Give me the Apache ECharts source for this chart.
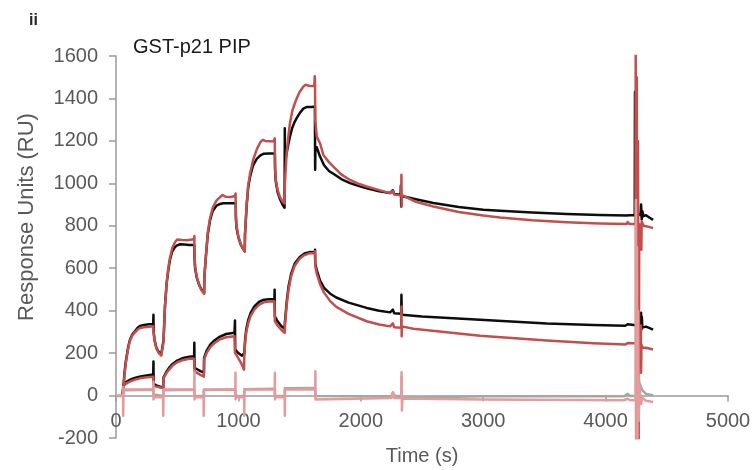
<!DOCTYPE html>
<html>
<head>
<meta charset="utf-8">
<script src="https://cdn.jsdelivr.net/npm/echarts@6/dist/echarts.min.js"></script>
<style>
html,body{margin:0;padding:0;background:#fff;}
#chart{width:756px;height:470px;}
</style>
</head>
<body>
<div id="chart"></div>
<script>
// Tick values
const xTicks = [0, 1000, 2000, 3000, 4000, 5000];
const yTicks = [-200, 0, 200, 400, 600, 800, 1000, 1200, 1400, 1600];

// Series: [time (s), response (RU)]
const blackHigh = [[55,0],[60,37],[70,110],[80,160],[87,185],[100,230],[114,263],[135,290],[155,303],[175,318],[196,328],[230,333],[270,336],[304,337],[306,381],[308,300],[315,262],[330,225],[350,205],[370,195],[386,190],
[388,260],[400,420],[414,530],[427,590],[441,640],[460,680],[482,700],[500,708],[523,713],[560,712],[600,709],[639,710],
[641,660],[646,600],[660,555],[680,520],[700,498],[720,483],
[722,560],[735,660],[750,760],[768,825],[790,870],[822,895],[850,903],[876,906],[920,906],[978,906],
[980,830],[985,790],[1000,745],[1020,710],[1040,690],[1052,679],
[1054,760],[1068,900],[1080,980],[1095,1030],[1120,1085],[1150,1115],[1180,1132],[1204,1139],[1250,1140],[1298,1140],
[1300,1060],[1305,1010],[1320,960],[1340,925],[1360,900],[1377,885],
[1378,1049],[1379,1259],[1381,1100],[1394,1142],[1410,1190],[1421,1220],[1440,1262],[1460,1290],[1476,1307],[1500,1330],[1530,1352],[1560,1360],[1600,1360],[1625,1362],
[1627,1064],[1629,1150],[1640,1170],[1667,1126],[1700,1085],[1740,1058],[1776,1045],[1840,1020],[1912,1001],[1980,988],[2048,977],[2150,963],[2239,954],[2255,952],[2262,968],[2272,950],[2325,946],[2327,990],[2330,891],[2335,940],[2347,941],[2450,925],[2593,907],[2800,888],[3000,876],[3137,871],[3400,862],[3682,855],[3950,851],[4172,849],[4180,858],[4195,850],[4238,850],[4240,1432],[4242,860],[4285,850],[4290,900],[4295,830],[4300,870],[4310,845],[4330,850],[4360,838],[4388,828]];

const redHigh = [[55,0],[60,30],[70,100],[80,150],[87,180],[100,225],[114,258],[135,285],[155,298],[175,310],[196,318],[230,322],[270,324],[304,326],[306,335],[308,290],[315,258],[330,222],[350,200],[370,188],[386,183],
[388,250],[400,420],[414,530],[427,600],[441,650],[460,695],[482,722],[500,735],[515,740],[540,733],[580,732],[620,735],[638,738],[640,752],[641,680],[646,610],[660,560],[680,520],[700,495],[720,480],
[722,560],[735,660],[750,770],[768,835],[790,885],[822,920],[850,935],[870,945],[895,937],[940,936],[970,940],[977,952],[979,850],[985,800],[1000,750],[1020,712],[1040,690],[1052,680],
[1054,760],[1068,905],[1080,990],[1095,1045],[1120,1110],[1150,1160],[1180,1195],[1200,1205],[1220,1200],[1260,1198],[1290,1200],[1297,1212],[1299,1080],[1305,1020],[1320,970],[1340,935],[1360,915],[1378,905],
[1380,1000],[1394,1142],[1410,1230],[1421,1283],[1440,1340],[1460,1375],[1476,1400],[1500,1430],[1530,1455],[1550,1465],[1575,1460],[1600,1458],[1620,1460],[1624,1505],[1626,1470],[1628,1300],[1640,1220],[1667,1189],[1694,1134],[1740,1100],[1776,1079],[1840,1042],[1912,1016],[1980,998],[2048,985],[2150,968],[2239,954],[2255,950],[2262,965],[2272,948],[2330,942],[2332,1040],[2334,891],[2336,945],[2347,941],[2450,913],[2593,891],[2800,865],[3000,848],[3137,839],[3400,826],[3682,817],[3950,811],[4172,808],[4180,818],[4195,808],[4244,808],[4246,1605],[4250,-250],[4255,1500],[4260,-250],[4265,1200],[4270,-250],[4275,808],[4290,814],[4292,687],[4295,820],[4310,800],[4340,797],[4388,789]];

const blackLow = [[55,0],[60,52],[80,62],[100,70],[130,78],[160,84],[200,90],[250,95],[304,99],[306,161],[308,55],[330,48],[360,42],[386,37],
[388,85],[410,110],[430,128],[460,148],[500,165],[550,177],[600,183],[638,185],[640,249],[642,131],[660,125],[690,115],[718,108],
[720,178],[740,210],[770,240],[800,258],[850,278],[900,290],[968,296],[972,354],[974,216],[1000,200],[1030,188],[1046,180],
[1048,200],[1055,265],[1065,315],[1080,355],[1100,390],[1130,420],[1170,442],[1210,452],[1250,454],[1294,455],[1296,499],[1298,373],[1320,350],[1350,328],[1378,315],
[1380,345],[1395,445],[1410,515],[1430,572],[1460,622],[1500,652],[1540,670],[1580,676],[1624,675],[1626,687],[1628,620],[1640,592],[1667,542],[1700,507],[1750,480],[1800,462],[1900,438],[2048,413],[2150,400],[2239,392],[2255,390],[2262,405],[2272,388],[2330,386],[2332,475],[2334,414],[2336,381],[2500,372],[2974,357],[3519,339],[3900,333],[4160,329],[4180,336],[4195,329],[4285,329],[4290,390],[4293,311],[4296,370],[4300,320],[4330,325],[4360,318],[4388,311]];

const redLow = [[55,0],[60,45],[80,55],[100,62],[130,70],[160,76],[200,82],[250,86],[304,89],[306,95],[308,45],[330,42],[360,38],[386,34],
[388,80],[410,104],[430,120],[460,140],[500,157],[550,168],[600,173],[638,174],[640,180],[642,114],[660,108],[690,97],[718,89],
[720,170],[740,200],[770,228],[800,245],[850,265],[900,275],[968,279],[970,285],[972,202],[1000,175],[1025,150],[1046,122],
[1048,180],[1055,250],[1065,300],[1080,340],[1100,375],[1130,405],[1170,428],[1210,440],[1250,443],[1294,444],[1296,450],[1298,350],[1320,330],[1350,310],[1378,295],
[1380,330],[1395,430],[1410,500],[1430,560],[1460,612],[1500,645],[1540,662],[1580,670],[1624,670],[1626,680],[1628,610],[1640,575],[1667,525],[1700,485],[1750,445],[1800,418],[1900,385],[2048,350],[2150,335],[2239,326],[2255,324],[2262,340],[2272,322],[2330,320],[2332,420],[2334,279],[2336,326],[2429,315],[2974,282],[3519,259],[3900,247],[4160,240],[4180,248],[4195,240],[4285,245],[4288,330],[4290,108],[4293,240],[4300,225],[4330,225],[4388,217]];

const greyCtrl = [[0,-2],[58,-2],[59,40],[61,25],[305,27],[306,5],[310,-2],[385,-2],[386,25],[640,27],[641,-2],[716,-2],[717,26],[975,28],[976,-2],[1047,-2],[1048,30],[1297,32],[1298,-2],[1378,-2],[1379,34],[1628,36],[1629,-2],[2250,-3],[2262,15],[2275,-2],[2332,-2],[2333,90],[2336,-10],[2340,-2],[3000,-3],[4150,-3],[4180,8],[4200,-2],[4250,-2],[4255,160],[4260,-50],[4268,100],[4275,60],[4300,25],[4330,8],[4388,2]];

const pinkCtrl = [[0,0],[58,0],[59,-95],[61,28],[305,28],[306,65],[307,-18],[310,-8],[385,-8],[386,-95],[388,28],[640,28],[641,112],[642,-18],[645,-8],[716,-8],[717,-95],[719,28],[975,28],[976,108],[977,-18],[980,-8],[1047,-8],[1048,-95],[1050,28],[1297,28],[1298,108],[1299,-18],[1302,-8],[1378,-8],[1379,-95],[1381,28],[1628,28],[1629,114],[1630,-18],[1640,-10],[2250,-12],[2262,15],[2275,-12],[2332,-12],[2333,110],[2336,-70],[2340,-14],[3000,-18],[4150,-22],[4180,-15],[4200,-22],[4245,-22],[4248,922],[4252,-260],[4256,700],[4260,-260],[4265,400],[4270,-120],[4278,40],[4290,-40],[4300,-10],[4330,-25],[4388,-30]];

const chart = echarts.init(document.getElementById('chart'), null, {renderer: 'canvas'});
const FONT = '"Liberation Sans", Arial, sans-serif';
function mk(name, data, color, z) {
  return {
    name: name, type: 'line', data: data, symbol: 'none', showSymbol: false,
    lineStyle: {color: color, width: 2.5, join: 'round'}, z: z, clip: true, silent: true
  };
}
const plain = v => String(v);
chart.setOption({
  animation: false,
  backgroundColor: '#fff',
  title: [
    {text: 'ii', left: 29, top: 13, padding: 0, textStyle: {fontFamily: FONT, fontSize: 16, fontWeight: 'bold', color: '#262626'}},
    {text: 'GST-p21 PIP', left: 133, top: 37, padding: 0, textStyle: {fontFamily: FONT, fontSize: 20, fontWeight: 'normal', color: '#1a1a1a'}}
  ],
  grid: {left: 116, right: 28, top: 56, bottom: 32, containLabel: false, outerBoundsMode: 'none'},
  xAxis: {
    type: 'value', min: xTicks[0], max: xTicks[xTicks.length - 1], interval: 1000,
    name: 'Time (s)', nameLocation: 'middle', nameGap: 8,
    nameTextStyle: {fontFamily: FONT, fontSize: 20, color: '#595959'},
    axisLine: {onZero: true, lineStyle: {color: '#9a9a9a', width: 1.5}},
    axisTick: {show: true, inside: false, length: 6, lineStyle: {color: '#9a9a9a', width: 1.5}},
    axisLabel: {fontFamily: FONT, fontSize: 20, color: '#595959', margin: -27, formatter: plain},
    splitLine: {show: false}
  },
  yAxis: {
    type: 'value', min: yTicks[0], max: yTicks[yTicks.length - 1], interval: 200,
    name: 'Response Units (RU)', nameLocation: 'middle', nameGap: 78,
    nameTextStyle: {fontFamily: FONT, fontSize: 22, color: '#595959', padding: [0, 0, 0, 60]},
    axisLine: {show: true, lineStyle: {color: '#9a9a9a', width: 1.5}},
    axisTick: {show: true, inside: false, length: 7, lineStyle: {color: '#9a9a9a', width: 1.5}},
    axisLabel: {fontFamily: FONT, fontSize: 20, color: '#595959', margin: 18, formatter: plain},
    splitLine: {show: false}
  },
  series: [
    mk('black high', blackHigh, '#0d0d0d', 2),
    mk('black low', blackLow, '#0d0d0d', 2),
    mk('red high', redHigh, '#c0504d', 3),
    mk('red low', redLow, '#c0504d', 3),
    mk('grey control', greyCtrl, '#a6a6a6', 4),
    mk('pink control', pinkCtrl, '#e39b9b', 5)
  ]
});
</script>
</body>
</html>
